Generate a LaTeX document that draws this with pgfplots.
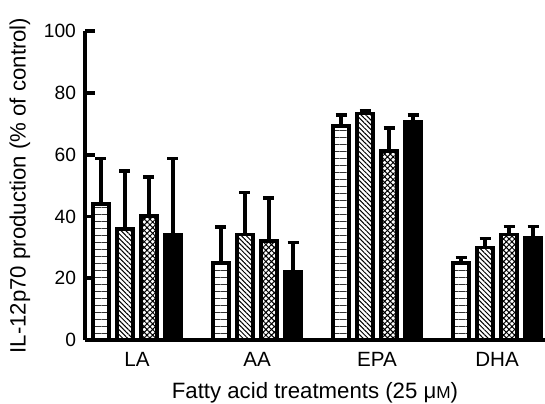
\documentclass[border=0pt]{standalone}
\usepackage{fontspec}
\setmainfont{Liberation Sans}
\usepackage{pgfplots}
\usepackage{pgfplotstable}
\pgfplotsset{compat=1.18}
\usetikzlibrary{patterns.meta}
\pgfplotstableread{
x v1 e1 v2 e2 v3 e3 v4 e4
0 44.0 14.7 36.0 18.7 40.2 12.5 34.2 24.5
1 25.0 11.6 34.2 13.5 32.1 13.8 22.2 9.4
2 69.3 3.6 73.3 0.8 61.2 7.5 70.5 2.4
3 25.0 1.7 30.0 2.9 34.2 2.5 33.2 3.5
}\data
\begin{document}
\begin{tikzpicture}
\begin{axis}[name=ax,
  scale only axis, width=230pt, height=154.5pt,
  xmin=-0.4333, xmax=3.4, ymin=0, ymax=100,
  ybar, bar width=8.2pt,
  axis x line=bottom, axis y line=left,
  axis line style={-, line width=2.2pt, black},
  ytick={0,20,...,100}, tick align=inside, major tick length=5pt,
  y tick style={line width=1.9pt, black},
  xtick={0,1,2,3}, xticklabels={LA,AA,EPA,DHA}, x tick style={draw=none},
  y tick label style={font=\fontsize{9.6}{11}\selectfont, xshift=-1pt},
  x tick label style={font=\fontsize{10.3}{12}\selectfont, yshift=-2.5pt},
  /pgf/number format/assume math mode=true,
  ylabel={IL-12p70 production (\% of control)},
  xlabel={Fatty acid treatments (25 μ{\fontsize{8.6}{9}\selectfont M})},
  label style={font=\fontsize{11.1}{13}\selectfont},
  ylabel style={at={(axis description cs:-0.1413,0.5)}, anchor=center},
  xlabel style={at={(axis description cs:0.5,-0.172)}, anchor=center},
  error bars/y dir=plus, error bars/y explicit,
  error bars/error bar style={line width=1.8pt, black},
  error bars/error mark options={rotate=90, line width=1.8pt, black, mark size=2.75pt},
]
\addplot[draw=black, line width=1.8pt, bar shift=-18pt,
  pattern={Lines[angle=0,distance=3.5pt,line width=0.5pt]}, pattern color=black!80]
  table[x=x, y=v1, y error=e1] {\data};
\addplot[draw=black, line width=1.8pt, bar shift=-6pt,
  pattern={Lines[angle=-45,distance=1.7pt,line width=0.5pt]}, pattern color=black]
  table[x=x, y=v2, y error=e2] {\data};
\addplot[draw=black, line width=1.8pt, bar shift=6pt,
  pattern={Hatch[angle=45,distance=2pt,line width=0.5pt]}, pattern color=black]
  table[x=x, y=v3, y error=e3] {\data};
\addplot[draw=black, line width=1.8pt, bar shift=18pt, fill=black]
  table[x=x, y=v4, y error=e4] {\data};
\end{axis}
\pgfresetboundingbox
\path (ax.south west) ++(-42.5pt,-31.5pt) rectangle ++(272.5pt,201.5pt);
\end{tikzpicture}
\end{document}
